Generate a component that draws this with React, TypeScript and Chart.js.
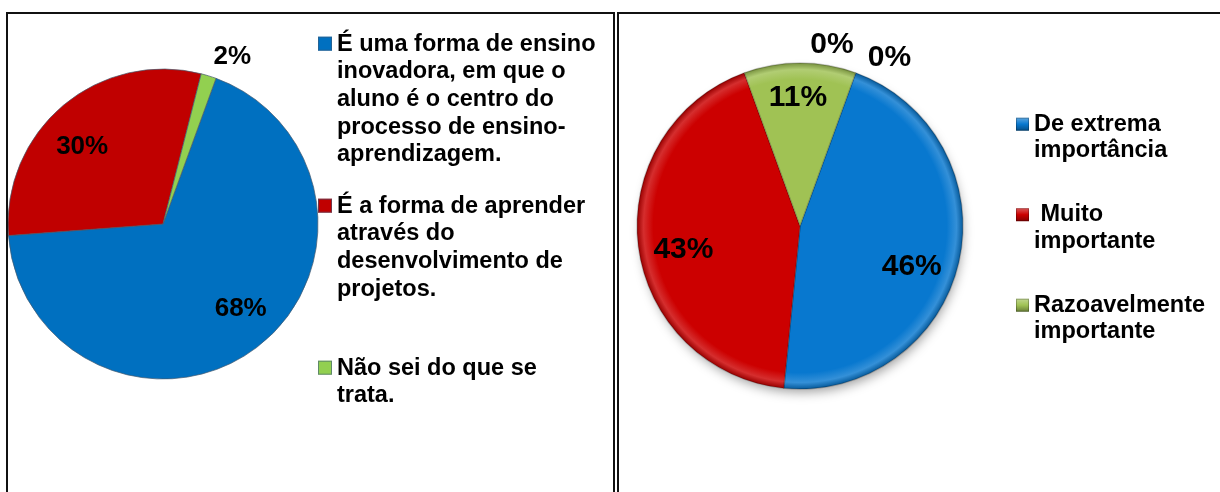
import React, { useEffect, useRef } from "react";
import { Chart, registerables } from "chart.js";

Chart.register(...registerables);

const FONT = "'Liberation Sans', Arial, Helvetica, sans-serif";

// ---- Left chart data ----
const leftCategories: string[][] = [
  ["É uma forma de ensino", "inovadora, em que o", "aluno é o centro do", "processo de ensino-", "aprendizagem."],
  ["É a forma de aprender", "através do", "desenvolvimento de", "projetos."],
  ["Não sei do que se", "trata."],
];
const leftValues = [43, 19, 1];
const leftColors = ["#0070C0", "#C00000", "#92D050"];

// ---- Right chart data ----
const rightCategories: string[][] = [
  ["De extrema", "importância"],
  [" Muito", "importante"],
  ["Razoavelmente", "importante"],
  ["Pouco importante"],
  ["Sem importância"],
];
const rightValues = [29, 27, 7, 0, 0];
const rightColors = ["#0878CF", "#CC0000", "#A0C254", "#7F7F7F", "#7F7F7F"];

const LEFT_RADIUS = 155;
const RIGHT_RADIUS = 163;

function mix(hex: string, target: number, amt: number) {
  const n = parseInt(hex.slice(1), 16);
  const r = (n >> 16) & 255, g = (n >> 8) & 255, b = n & 255;
  const f = (v: number) => Math.round(v + (target - v) * amt);
  return `rgb(${f(r)},${f(g)},${f(b)})`;
}

const pieDecor = {
  id: "pieDecor",
  beforeDatasetsDraw(chart: any, _args: any, opts: any) {
    if (!opts.shadow) return;
    const el = chart.getDatasetMeta(0).data[0];
    if (!el) return;
    const { x, y, outerRadius } = el.getProps(["x", "y", "outerRadius"], true);
    const ctx = chart.ctx;
    ctx.save();
    ctx.beginPath();
    ctx.arc(x, y, outerRadius - 3, 0, Math.PI * 2);
    ctx.shadowColor = "rgba(0,0,0,0.4)";
    ctx.shadowBlur = 12;
    ctx.shadowOffsetX = 2;
    ctx.shadowOffsetY = 6;
    ctx.fillStyle = "#ffffff";
    ctx.fill();
    ctx.restore();
  },
  afterDatasetsDraw(chart: any, _args: any, opts: any) {
    const ctx = chart.ctx;
    const values = chart.data.datasets[0].data as number[];
    const colors = opts.colors as string[];
    const total = values.reduce((a: number, b: number) => a + b, 0);
    const meta = chart.getDatasetMeta(0);
    ctx.save();
    ctx.font = `bold ${opts.labelSize}px ${FONT}`;
    ctx.fillStyle = "#000";
    ctx.textAlign = "center";
    ctx.textBaseline = "middle";
    meta.data.forEach((el: any, i: number) => {
      const { x, y, startAngle, endAngle, outerRadius } = el.getProps(
        ["x", "y", "startAngle", "endAngle", "outerRadius"],
        true
      );
      const mid = (startAngle + endAngle) / 2 + (opts.labelAngle[i] * Math.PI) / 180;
      const d = outerRadius * opts.labelRadius[i];
      const txt = Math.round((values[i] / total) * 100) + "%";
      ctx.fillText(txt, x + Math.cos(mid) * d, y + Math.sin(mid) * d);
    });

    // legend
    const lg = opts.legend;
    const labels = chart.data.labels as string[][];
    ctx.font = `bold ${lg.fontSize}px ${FONT}`;
    ctx.textAlign = "left";
    ctx.textBaseline = "alphabetic";
    let k = 0;
    labels.forEach((lines: string[], i: number) => {
      if (!(values[i] > 0)) return;
      const base = lg.top + k * lg.spacing;
      const sy = base - lg.squareOffset;
      if (lg.bevel) {
        const g = ctx.createLinearGradient(0, sy, 0, sy + lg.square);
        g.addColorStop(0, mix(colors[i], 255, 0.35));
        g.addColorStop(0.5, colors[i]);
        g.addColorStop(1, mix(colors[i], 0, 0.35));
        ctx.fillStyle = g;
      } else {
        ctx.fillStyle = colors[i];
      }
      ctx.fillRect(lg.squareX, sy, lg.square, lg.square);
      ctx.strokeStyle = lg.bevel ? "rgba(0,0,0,0.25)" : "rgba(60,90,120,0.6)";
      ctx.lineWidth = 1;
      ctx.strokeRect(lg.squareX + 0.5, sy + 0.5, lg.square - 1, lg.square - 1);
      ctx.fillStyle = "#000";
      lines.forEach((ln: string, j: number) => {
        ctx.fillText(ln, lg.textX, base + j * lg.lineHeight);
      });
      k++;
    });
    ctx.restore();
  },
};

function LeftChart() {
  const ref = useRef<HTMLCanvasElement>(null);
  useEffect(() => {
    const chart = new Chart(ref.current!, {
      type: "pie",
      data: {
        labels: leftCategories as any,
        datasets: [
          {
            data: leftValues,
            backgroundColor: leftColors,
            borderColor: "rgba(70,90,110,0.7)",
            borderWidth: 1,
            radius: LEFT_RADIUS,
          } as any,
        ],
      },
      options: {
        responsive: false,
        animation: false,
        rotation: 20,
        layout: { padding: { left: 0, right: 295, top: 55, bottom: 113 } },
        plugins: {
          legend: { display: false },
          tooltip: { enabled: false },
          pieDecor: {
            shadow: false,
            colors: leftColors,
            labelSize: 26,
            labelAngle: [-5.5, -6.4, 5.3],
            labelRadius: [0.74, 0.72, 1.17],
            legend: {
              fontSize: 23.5,
              top: 36.7,
              spacing: 162,
              lineHeight: 27.6,
              squareX: 310,
              squareOffset: 14,
              square: 14,
              textX: 329,
              bevel: false,
            },
          },
        } as any,
      },
      plugins: [pieDecor as any],
    });
    return () => chart.destroy();
  }, []);
  return <canvas ref={ref} width={605} height={478} style={{ display: "block" }} />;
}

function RightChart() {
  const ref = useRef<HTMLCanvasElement>(null);
  useEffect(() => {
    const chart = new Chart(ref.current!, {
      type: "pie",
      data: {
        labels: rightCategories as any,
        datasets: [
          {
            data: rightValues,
            backgroundColor: (c: any) => {
              const base = rightColors[c.dataIndex];
              const ca = c.chart.chartArea;
              if (!ca) return base;
              const cx = (ca.left + ca.right) / 2;
              const cy = (ca.top + ca.bottom) / 2;
              const g = c.chart.ctx.createRadialGradient(cx, cy, 0, cx, cy, RIGHT_RADIUS);
              g.addColorStop(0, base);
              g.addColorStop(0.9, base);
              g.addColorStop(0.96, mix(base, 255, 0.18));
              g.addColorStop(1, mix(base, 0, 0.25));
              return g;
            },
            borderColor: "rgba(0,0,0,0.2)",
            borderWidth: 1.5,
            radius: RIGHT_RADIUS,
          } as any,
        ],
      },
      options: {
        responsive: false,
        animation: false,
        rotation: 20,
        layout: { padding: { left: 18, right: 257, top: 49, bottom: 103 } },
        plugins: {
          legend: { display: false },
          tooltip: { enabled: false },
          pieDecor: {
            shadow: true,
            colors: rightColors,
            labelSize: 30,
            labelAngle: [7.2, -4.4, -0.9, -10, 8],
            labelRadius: [0.73, 0.73, 0.79, 1.13, 1.17],
            legend: {
              fontSize: 23.5,
              top: 116.7,
              spacing: 90.5,
              lineHeight: 26.7,
              squareX: 397,
              squareOffset: 13,
              square: 13,
              textX: 415,
              bevel: true,
            },
          },
        } as any,
      },
      plugins: [pieDecor as any],
    });
    return () => chart.destroy();
  }, []);
  return <canvas ref={ref} width={601} height={478} style={{ display: "block" }} />;
}

export default function App() {
  const box: React.CSSProperties = {
    position: "absolute",
    top: 12,
    height: 600,
    border: "2px solid #111",
    boxSizing: "border-box",
    background: "#fff",
  };
  return (
    <div
      style={{
        position: "absolute",
        left: 0,
        top: 0,
        width: 1220,
        height: 492,
        overflow: "hidden",
        background: "#fff",
      }}
    >
      <div style={{ ...box, left: 6, width: 609 }}>
        <LeftChart />
      </div>
      <div style={{ ...box, left: 617, width: 700 }}>
        <RightChart />
      </div>
    </div>
  );
}
